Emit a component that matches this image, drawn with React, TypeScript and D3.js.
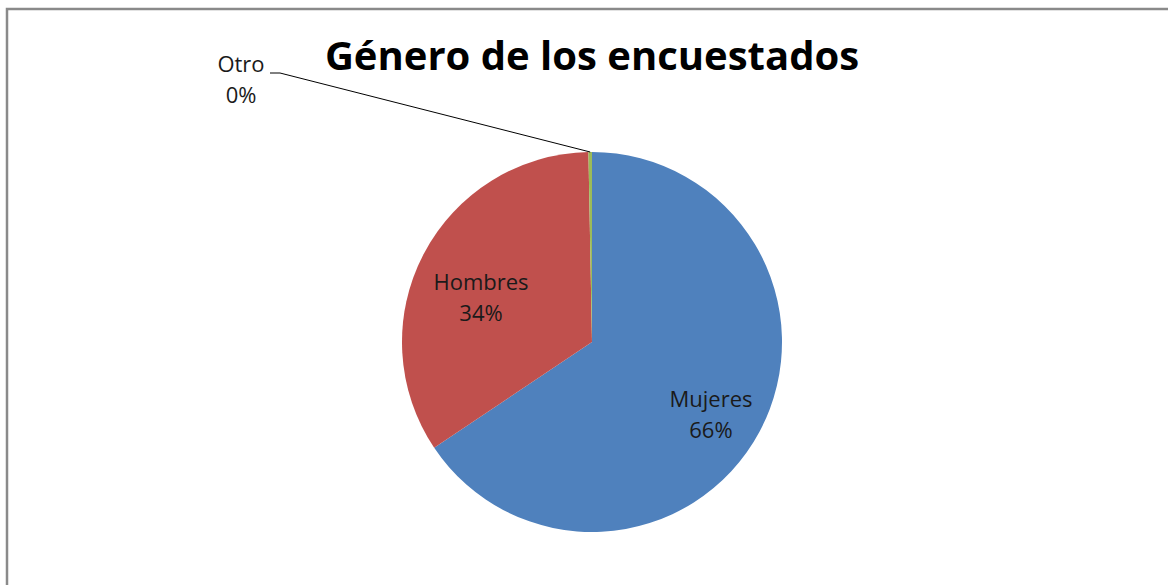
import * as d3 from "d3";

// Survey: gender of respondents (share, %)
const categories = ["Mujeres", "Hombres", "Otro"];
const shares = [65.6, 34.1, 0.3];
const colors = ["#4F81BD", "#C0504D", "#9BBB59"];
const title = "Género de los encuestados";

const W = 1168;
const H = 585;
const cx = 592;
const cy = 342;
const r = 190;
const labelSize = 22;
const lineGap = 31;

// label nudges relative to arc centroid (Excel "best fit"), first-line baseline
const nudge: Record<string, [number, number]> = {
  Mujeres: [10, 7],
  Hombres: [-1.5, 5],
};

export default function App() {
  const data = categories.map((name, i) => ({ name, value: shares[i], color: colors[i] }));
  const pie = d3.pie<(typeof data)[number]>().value((d) => d.value).sort(null);
  const arcs = pie(data);
  const arc = d3.arc<d3.PieArcDatum<(typeof data)[number]>>().innerRadius(0).outerRadius(r);
  const labelArc = d3
    .arc<d3.PieArcDatum<(typeof data)[number]>>()
    .innerRadius(r * 1.3)
    .outerRadius(0);
  const fmt = (v: number) => `${Math.round(v)}%`;

  const otro = arcs[2];
  const mid = (otro.startAngle + otro.endAngle) / 2;
  const edge: [number, number] = [Math.sin(mid) * r, -Math.cos(mid) * r];

  return (
    <svg
      width={W}
      height={H}
      style={{ position: "absolute", left: 0, top: 0, background: "#fff" }}
      fontFamily="'Open Sans', sans-serif"
    >
      <rect x={7} y={9} width={W + 20} height={H + 20} fill="#fff" stroke="#8a8a8a" strokeWidth={2.5} />
      <text x={cx} y={70} textAnchor="middle" fontSize={40} fontWeight="bold" fill="#000">
        {title}
      </text>
      <g transform={`translate(${cx},${cy})`}>
        {arcs.map((a) => (
          <path key={a.data.name} d={arc(a) || ""} fill={a.data.color} />
        ))}
        {arcs.slice(0, 2).map((a) => {
          const [x, y] = labelArc.centroid(a);
          const [nx, ny] = nudge[a.data.name];
          return (
            <text key={a.data.name} x={x + nx} y={y + ny} textAnchor="middle" fontSize={labelSize} fill="#1a1a1a">
              <tspan x={x + nx}>{a.data.name}</tspan>
              <tspan x={x + nx} dy={lineGap}>{fmt(a.data.value)}</tspan>
            </text>
          );
        })}
        <polyline
          points={`${270 - cx},${73 - cy} ${280 - cx},${73 - cy} ${edge[0]},${edge[1]}`}
          fill="none"
          stroke="#000"
          strokeWidth={1}
        />
        <text x={241 - cx} y={72 - cy} textAnchor="middle" fontSize={labelSize} fill="#1a1a1a">
          <tspan x={241 - cx}>{otro.data.name}</tspan>
          <tspan x={241 - cx} dy={lineGap}>{fmt(otro.data.value)}</tspan>
        </text>
      </g>
    </svg>
  );
}
